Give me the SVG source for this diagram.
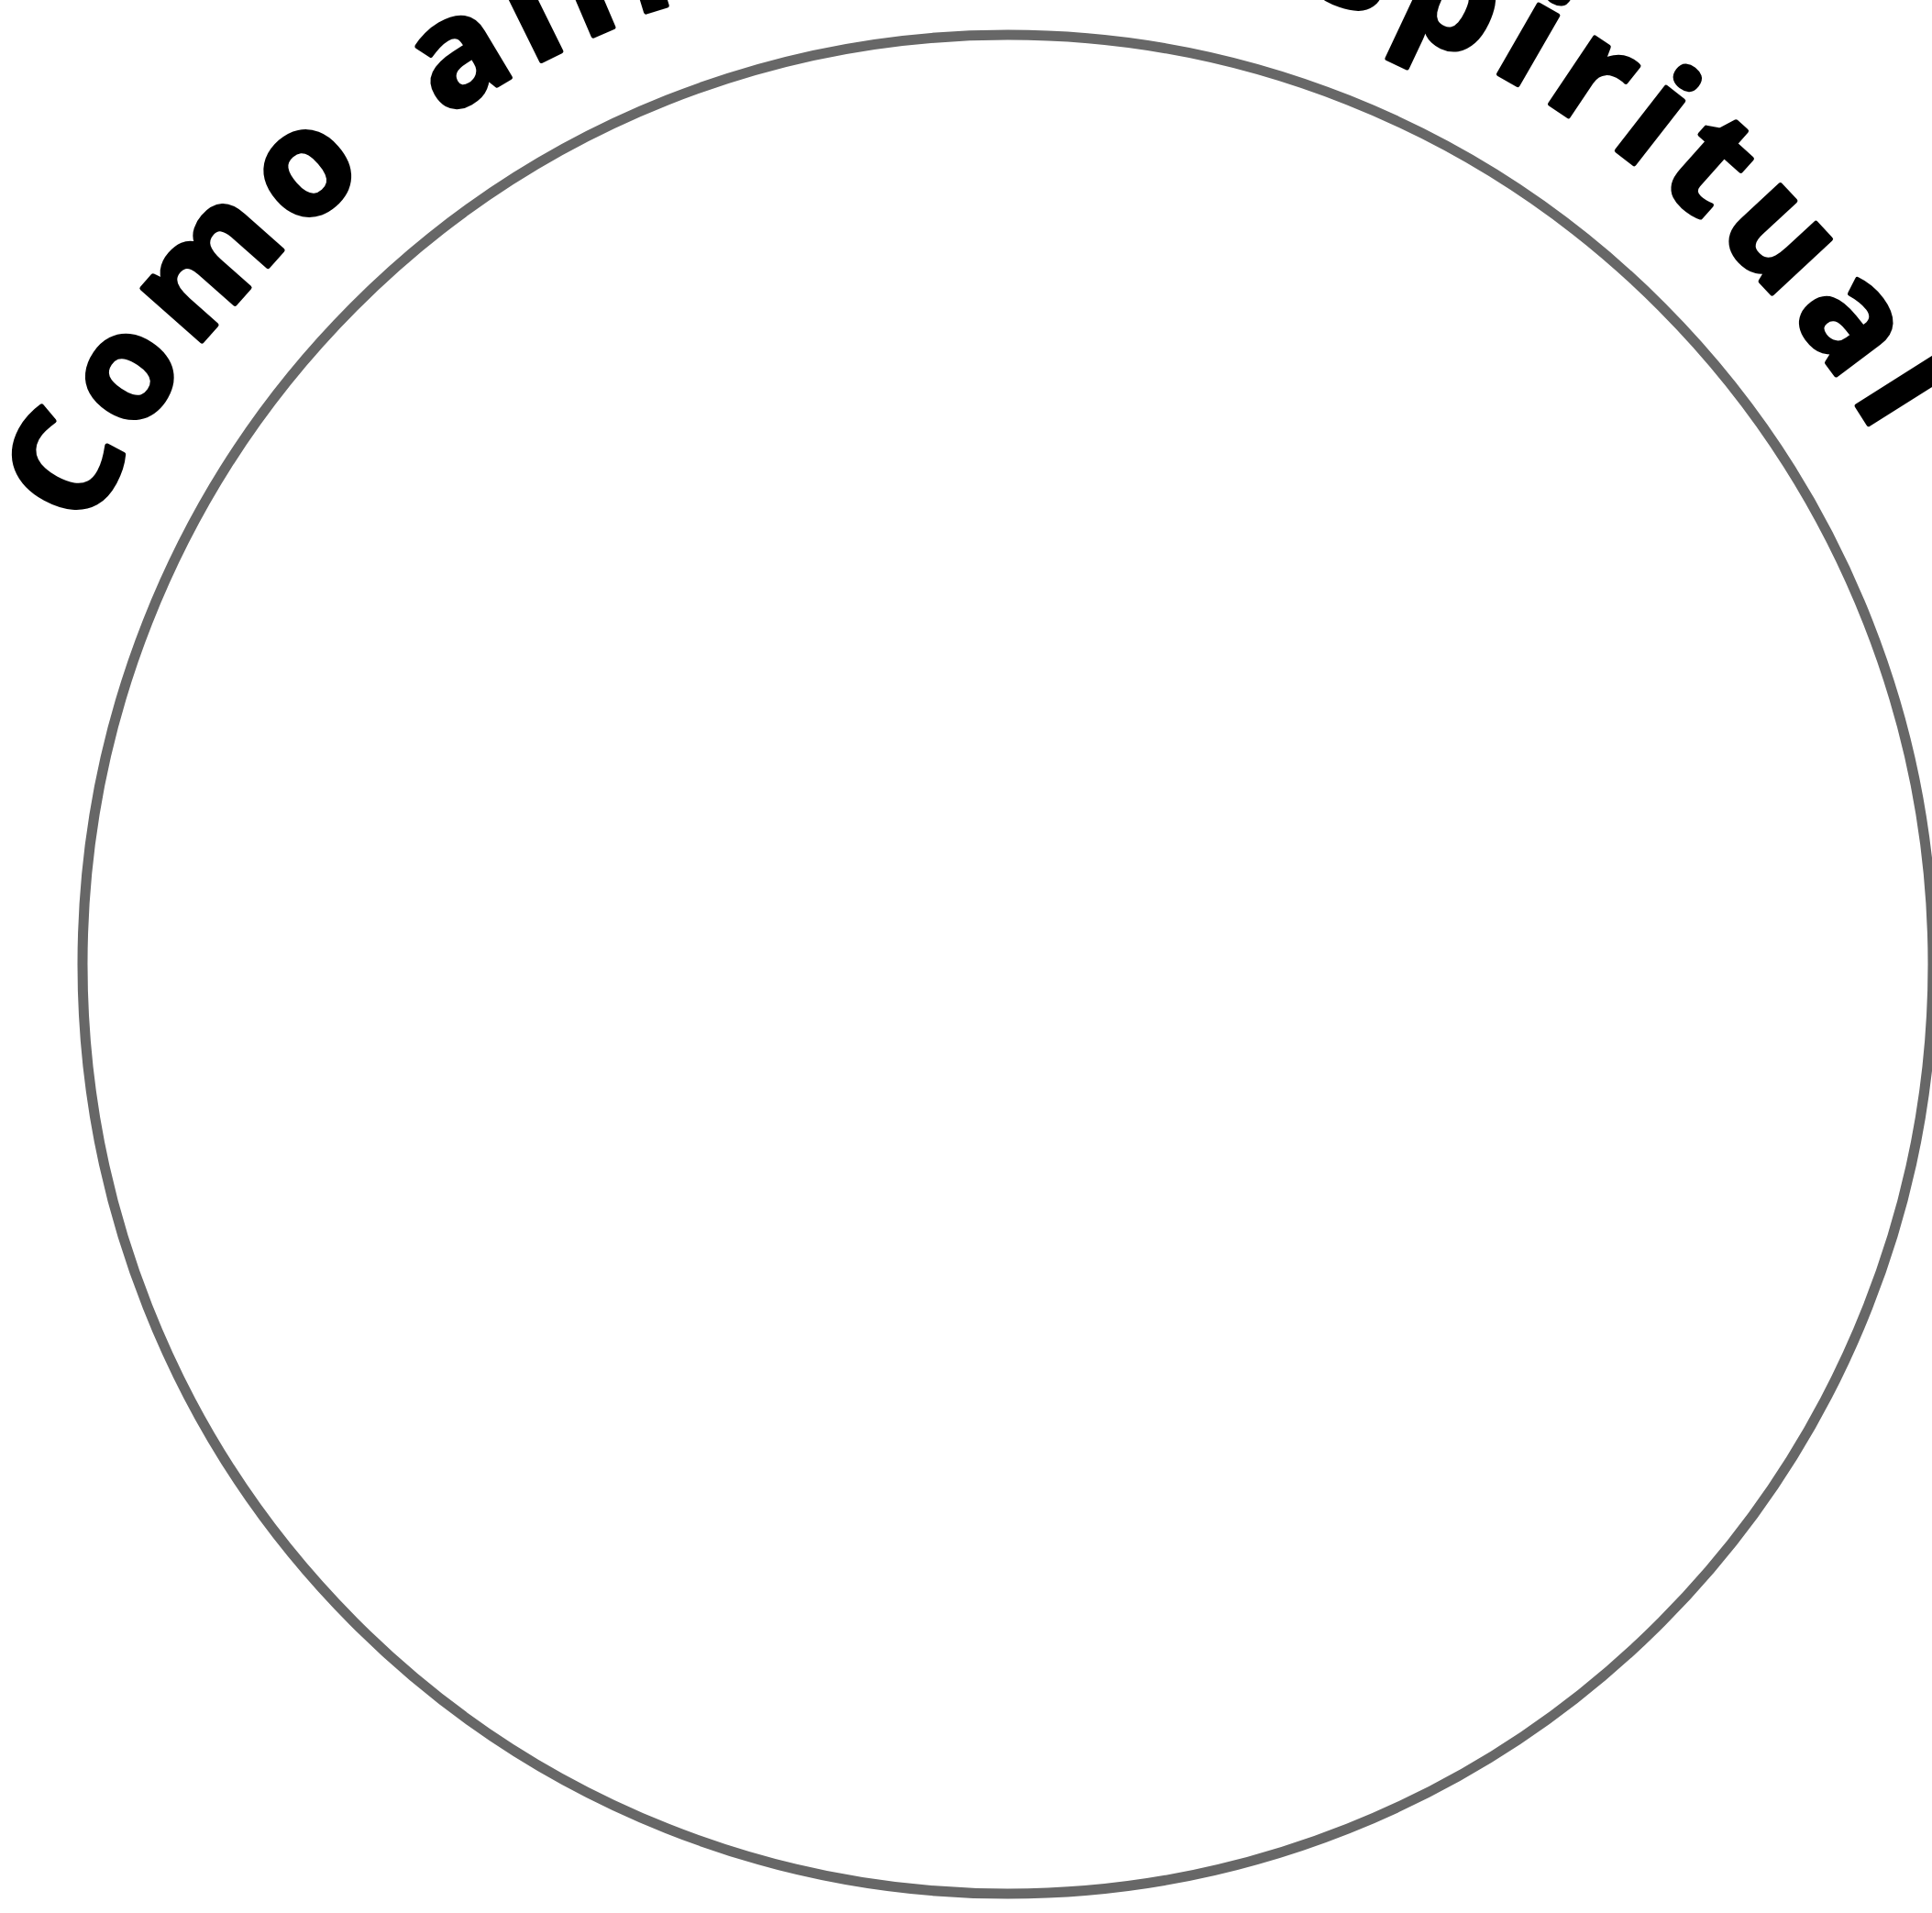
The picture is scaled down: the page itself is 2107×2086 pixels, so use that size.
<svg xmlns="http://www.w3.org/2000/svg" width="2107" height="2086" viewBox="0 0 2107 2086">
  <style>
    .ring { fill: none; stroke: #676767; stroke-width: 11; }
    .arc-text { font-family: "Open Sans", "Liberation Sans", sans-serif; font-weight: 700; font-size: 160px; fill: #000; stroke: #000; stroke-width: 5; stroke-linejoin: round; letter-spacing: 14px; }
  </style>
  <defs>
    <path id="textArc" d="M -9 1051 A 1108 1108 0 0 1 2207 1051" fill="none"/>
  </defs>
  <rect width="2107" height="2086" fill="#ffffff"/>
  <g id="ring">
    <ellipse class="ring" cx="1099" cy="1051.5" rx="1009" ry="1013.5"/>
  </g>
  <g id="title">
    <text class="arc-text" word-spacing="33"><textPath href="#textArc" startOffset="487">Como alim</textPath></text>
    <text class="arc-text" text-anchor="end" style="letter-spacing:16px"><textPath href="#textArc" startOffset="2889">spiritual</textPath></text>
  </g>
</svg>
